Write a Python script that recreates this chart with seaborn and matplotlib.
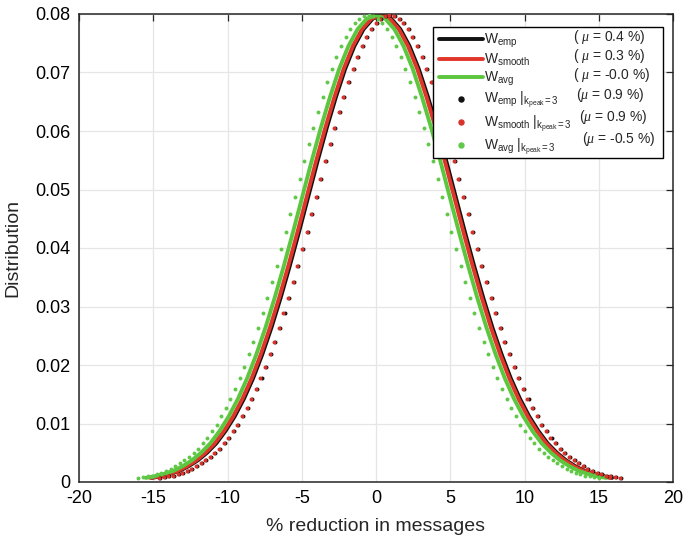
import numpy as np
import matplotlib
matplotlib.use("Agg")
import matplotlib.pyplot as plt
import seaborn as sns
from matplotlib.lines import Line2D
from matplotlib.patches import Rectangle

# ---------------- data ----------------
# solid lines: distribution values, evenly spaced across each curve's x-range
w_emp_y = [0.0007, 0.0010, 0.0014, 0.0019, 0.0027, 0.0037, 0.0050, 0.0066, 0.0087, 0.0112,
           0.0142, 0.0177, 0.0218, 0.0264, 0.0315, 0.0370, 0.0428, 0.0488, 0.0548, 0.0605,
           0.0658, 0.0706, 0.0745, 0.0774, 0.0792, 0.0798,
           0.0792, 0.0774, 0.0745, 0.0706, 0.0658, 0.0605, 0.0548, 0.0488, 0.0428, 0.0370,
           0.0315, 0.0264, 0.0218, 0.0177, 0.0142, 0.0112, 0.0087, 0.0066, 0.0050, 0.0037,
           0.0027, 0.0019, 0.0014, 0.0010, 0.0007]
w_smooth_y = [0.0007, 0.0010, 0.0014, 0.0019, 0.0027, 0.0037, 0.0050, 0.0066, 0.0087, 0.0112,
              0.0142, 0.0177, 0.0218, 0.0264, 0.0315, 0.0370, 0.0428, 0.0488, 0.0548, 0.0605,
              0.0658, 0.0706, 0.0745, 0.0774, 0.0792, 0.0798,
              0.0792, 0.0774, 0.0745, 0.0706, 0.0658, 0.0605, 0.0548, 0.0488, 0.0428, 0.0370,
              0.0315, 0.0264, 0.0218, 0.0177, 0.0142, 0.0112, 0.0087, 0.0066, 0.0050, 0.0037,
              0.0027, 0.0019, 0.0014, 0.0010, 0.0007]
w_avg_y = [0.0007, 0.0010, 0.0014, 0.0019, 0.0027, 0.0037, 0.0050, 0.0066, 0.0087, 0.0112,
           0.0142, 0.0177, 0.0218, 0.0264, 0.0315, 0.0370, 0.0428, 0.0488, 0.0548, 0.0605,
           0.0658, 0.0706, 0.0745, 0.0774, 0.0792, 0.0798,
           0.0792, 0.0774, 0.0745, 0.0706, 0.0658, 0.0605, 0.0548, 0.0488, 0.0428, 0.0370,
           0.0315, 0.0264, 0.0218, 0.0177, 0.0142, 0.0112, 0.0087, 0.0066, 0.0050, 0.0037,
           0.0027, 0.0019, 0.0014, 0.0010, 0.0007]
w_emp_xrange = (-15.1, 15.9)
w_smooth_xrange = (-15.2, 15.8)
w_avg_xrange = (-15.5, 15.5)

# dotted series (k_peak = 3)
k3_emp_y = [0.0007, 0.0008, 0.0010, 0.0011, 0.0014, 0.0016, 0.0019, 0.0023, 0.0027, 0.0032,
            0.0037, 0.0043, 0.0050, 0.0057, 0.0066, 0.0076, 0.0087, 0.0098, 0.0112, 0.0126,
            0.0142, 0.0159, 0.0177, 0.0197, 0.0218, 0.0240, 0.0264, 0.0289, 0.0315, 0.0342,
            0.0370, 0.0399, 0.0428, 0.0458, 0.0488, 0.0518, 0.0548, 0.0577, 0.0605, 0.0632,
            0.0658, 0.0683, 0.0706, 0.0726, 0.0745, 0.0761, 0.0774, 0.0784, 0.0792, 0.0796,
            0.0798,
            0.0796, 0.0792, 0.0784, 0.0774, 0.0761, 0.0745, 0.0726, 0.0706, 0.0683, 0.0658,
            0.0632, 0.0605, 0.0577, 0.0548, 0.0518, 0.0488, 0.0458, 0.0428, 0.0399, 0.0370,
            0.0342, 0.0315, 0.0289, 0.0264, 0.0240, 0.0218, 0.0197, 0.0177, 0.0159, 0.0142,
            0.0126, 0.0112, 0.0098, 0.0087, 0.0076, 0.0066, 0.0057, 0.0050, 0.0043, 0.0037,
            0.0032, 0.0027, 0.0023, 0.0019, 0.0016, 0.0014, 0.0011, 0.0010, 0.0008, 0.0007]
k3_smooth_y = [0.0007, 0.0008, 0.0010, 0.0011, 0.0014, 0.0016, 0.0019, 0.0023, 0.0027, 0.0032,
               0.0037, 0.0043, 0.0050, 0.0057, 0.0066, 0.0076, 0.0087, 0.0098, 0.0112, 0.0126,
               0.0142, 0.0159, 0.0177, 0.0197, 0.0218, 0.0240, 0.0264, 0.0289, 0.0315, 0.0342,
               0.0370, 0.0399, 0.0428, 0.0458, 0.0488, 0.0518, 0.0548, 0.0577, 0.0605, 0.0632,
               0.0658, 0.0683, 0.0706, 0.0726, 0.0745, 0.0761, 0.0774, 0.0784, 0.0792, 0.0796,
               0.0798,
               0.0796, 0.0792, 0.0784, 0.0774, 0.0761, 0.0745, 0.0726, 0.0706, 0.0683, 0.0658,
               0.0632, 0.0605, 0.0577, 0.0548, 0.0518, 0.0488, 0.0458, 0.0428, 0.0399, 0.0370,
               0.0342, 0.0315, 0.0289, 0.0264, 0.0240, 0.0218, 0.0197, 0.0177, 0.0159, 0.0142,
               0.0126, 0.0112, 0.0098, 0.0087, 0.0076, 0.0066, 0.0057, 0.0050, 0.0043, 0.0037,
               0.0032, 0.0027, 0.0023, 0.0019, 0.0016, 0.0014, 0.0011, 0.0010, 0.0008, 0.0007]
k3_avg_y = [0.0007, 0.0008, 0.0010, 0.0011, 0.0014, 0.0016, 0.0019, 0.0023, 0.0027, 0.0032,
            0.0037, 0.0043, 0.0050, 0.0057, 0.0066, 0.0076, 0.0087, 0.0098, 0.0112, 0.0126,
            0.0142, 0.0159, 0.0177, 0.0197, 0.0218, 0.0240, 0.0264, 0.0289, 0.0315, 0.0342,
            0.0370, 0.0399, 0.0428, 0.0458, 0.0488, 0.0518, 0.0548, 0.0577, 0.0605, 0.0632,
            0.0658, 0.0683, 0.0706, 0.0726, 0.0745, 0.0761, 0.0774, 0.0784, 0.0792, 0.0796,
            0.0798,
            0.0796, 0.0792, 0.0784, 0.0774, 0.0761, 0.0745, 0.0726, 0.0706, 0.0683, 0.0658,
            0.0632, 0.0605, 0.0577, 0.0548, 0.0518, 0.0488, 0.0458, 0.0428, 0.0399, 0.0370,
            0.0342, 0.0315, 0.0289, 0.0264, 0.0240, 0.0218, 0.0197, 0.0177, 0.0159, 0.0142,
            0.0126, 0.0112, 0.0098, 0.0087, 0.0076, 0.0066, 0.0057, 0.0050, 0.0043, 0.0037,
            0.0032, 0.0027, 0.0023, 0.0019, 0.0016, 0.0014, 0.0011, 0.0010, 0.0008, 0.0007]
k3_emp_xrange = (-14.53, 16.47)
k3_smooth_xrange = (-14.6, 16.4)
k3_avg_xrange = (-16.0, 15.0)

legend_labels = [r"$\mathrm{W}_{\mathrm{emp}}$",
                 r"$\mathrm{W}_{\mathrm{smooth}}$",
                 r"$\mathrm{W}_{\mathrm{avg}}$",
                 r"$\mathrm{W}_{\mathrm{emp}}\ |_{\mathrm{k}_{\mathrm{peak}}\mathrm{=3}}$",
                 r"$\mathrm{W}_{\mathrm{smooth}}\ |_{\mathrm{k}_{\mathrm{peak}}\mathrm{=3}}$",
                 r"$\mathrm{W}_{\mathrm{avg}}\ |_{\mathrm{k}_{\mathrm{peak}}\mathrm{=3}}$"]
mu_labels = [r"( $\mu$ = 0.4 %)", r"( $\mu$ = 0.3 %)", r"( $\mu$ = -0.0 %)",
             r"($\mu$ = 0.9 %)", r"($\mu$ = 0.9 %)", r"($\mu$ = -0.5 %)"]
x_ticks = [-20, -15, -10, -5, 0, 5, 10, 15, 20]
y_ticks = [0, 0.01, 0.02, 0.03, 0.04, 0.05, 0.06, 0.07, 0.08]
y_tick_labels = ["0", "0.01", "0.02", "0.03", "0.04", "0.05", "0.06", "0.07", "0.08"]
x_label = "% reduction in messages"
y_label = "Distribution"

# ---------------- style ----------------
sns.set_style("white")
plt.rcParams["font.family"] = ["Liberation Sans", "DejaVu Sans"]
plt.rcParams["mathtext.fontset"] = "custom"
plt.rcParams["mathtext.rm"] = "Liberation Sans"
plt.rcParams["mathtext.it"] = "Liberation Serif:italic"
plt.rcParams["mathtext.bf"] = "Liberation Sans:bold"

C_BLACK = "#111111"
C_RED = "#e0352a"
C_GREEN = "#5cc63e"
C_RED_DOT = "#d8322a"
C_GREEN_DOT = "#62c84a"

W, H = 684, 542
fig = plt.figure(figsize=(W / 100, H / 100), dpi=100)
ax = fig.add_axes([79 / W, 1 - 482 / H, 594 / W, 468 / H])


def px(x, y):
    return x / W, 1 - y / H


LW = 2.8
for yv, xr, col in [(w_emp_y, w_emp_xrange, C_BLACK),
                    (w_smooth_y, w_smooth_xrange, C_RED),
                    (w_avg_y, w_avg_xrange, C_GREEN)]:
    xv = np.linspace(xr[0], xr[1], len(yv))
    sns.lineplot(x=xv, y=yv, ax=ax, color=col, linewidth=LW, estimator=None,
                 sort=False, legend=False)

for yv, xr, col in [(k3_emp_y, k3_emp_xrange, C_BLACK),
                    (k3_smooth_y, k3_smooth_xrange, C_RED_DOT),
                    (k3_avg_y, k3_avg_xrange, C_GREEN_DOT)]:
    xv = np.linspace(xr[0], xr[1], len(yv))
    sns.scatterplot(x=xv, y=yv, ax=ax, color=col, s=8, linewidth=0, legend=False,
                    zorder=3)

ax.set_xlim(-20, 20)
ax.set_ylim(0, 0.08)
ax.set_xticks(x_ticks)
ax.set_xticklabels([str(t) for t in x_ticks])
ax.set_yticks(y_ticks)
ax.set_yticklabels(y_tick_labels)
ax.grid(True, color="#e6e6e6", linewidth=0.9)
ax.set_axisbelow(True)
for s in ax.spines.values():
    s.set_visible(True)
    s.set_color("#262626")
    s.set_linewidth(1.1)
ax.tick_params(direction="in", top=True, right=True, length=5, width=0.9,
               labelsize=13, colors="#262626", labelcolor="black")
ax.tick_params(axis="x", pad=6)
ax.tick_params(axis="y", pad=6)
ax.set_xlabel(x_label, fontsize=14, labelpad=8)
ax.set_ylabel(y_label, fontsize=14, labelpad=10)

# ---------------- legend ----------------
handles = [Line2D([], [], color=C_BLACK, lw=LW),
           Line2D([], [], color=C_RED, lw=LW),
           Line2D([], [], color=C_GREEN, lw=LW),
           Line2D([], [], color=C_BLACK, marker="o", ls="", markersize=3.6),
           Line2D([], [], color=C_RED_DOT, marker="o", ls="", markersize=3.6),
           Line2D([], [], color=C_GREEN_DOT, marker="o", ls="", markersize=3.6)]
fig.patches.append(Rectangle(px(433, 158), 230 / W, 131 / H, transform=fig.transFigure,
                             facecolor="white", edgecolor="black", linewidth=1.0,
                             zorder=2))
leg = fig.legend(handles, legend_labels, loc="upper left", bbox_to_anchor=px(439, 32),
                 bbox_transform=fig.transFigure, frameon=False, fontsize=10,
                 borderpad=0, borderaxespad=0, handlelength=3.15, handletextpad=0.1,
                 labelspacing=0.15)
leg.set_zorder(4)
mu_pos = [(573, 37), (573, 56), (573, 75), (576, 95), (579, 117), (582, 139)]
for lab, (mx, my) in zip(mu_labels, mu_pos):
    fig.text(*px(mx, my), lab, fontsize=10, ha="left", va="center", zorder=5)

fig.savefig("out.png", dpi=100)
